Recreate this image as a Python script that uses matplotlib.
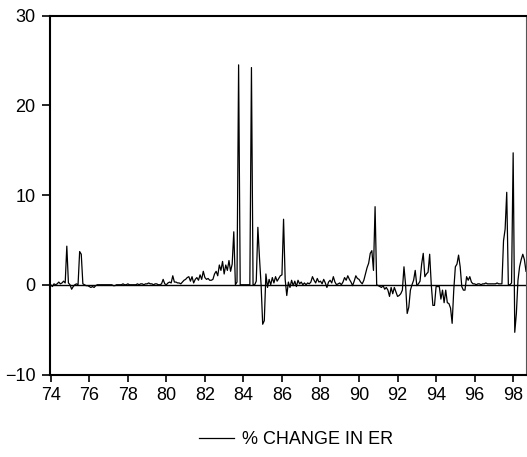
import numpy as np
import matplotlib
matplotlib.use("Agg")
import matplotlib.pyplot as plt

# Monthly % change in exchange rate, 1974:01 - 1998:09
y1974 = [0.0, -0.2, 0.1, 0.0, 0.1, 0.3, 0.1, 0.2, 0.4, 0.2, 4.3, 0.2]
y1975 = [0.0, -0.5, -0.2, 0.0, 0.1, 0.0, 3.7, 3.4, 0.1, 0.0, -0.1, -0.1]
y1976 = [-0.2, -0.3, -0.2, -0.3, -0.1, 0.0, 0.0, 0.0, 0.0, 0.0, 0.0, 0.0]
y1977 = [0.0, 0.0, 0.0, -0.1, -0.1, 0.0, 0.0, 0.0, 0.0, 0.1, 0.0, 0.0]
y1978 = [0.1, 0.0, 0.0, 0.0, 0.0, 0.0, 0.1, 0.0, 0.1, 0.1, 0.0, 0.1]
y1979 = [0.1, 0.2, 0.1, 0.1, 0.0, 0.1, 0.1, 0.0, 0.0, 0.1, 0.6, 0.1]
y1980 = [0.0, 0.2, 0.3, 0.2, 1.0, 0.3, 0.3, 0.2, 0.2, 0.1, 0.3, 0.5]
y1981 = [0.6, 0.8, 0.9, 0.4, 0.9, 0.2, 0.6, 0.8, 0.5, 1.1, 0.6, 1.5]
y1982 = [0.8, 0.6, 0.7, 0.5, 0.5, 0.6, 1.2, 1.5, 1.0, 2.2, 1.6, 2.6]
y1983 = [1.2, 2.2, 1.6, 2.7, 1.5, 2.3, 5.9, 0.0, 0.3, 24.5, 0.0, 0.0]
y1984 = [0.0, 0.0, 0.0, 0.0, 0.0, 24.2, 0.0, 0.0, 0.4, 6.4, 3.0, 0.0]
y1985 = [-4.4, -4.0, 1.2, -0.3, 0.6, 0.0, 0.8, 0.2, 0.9, 0.4, 0.7, 1.0]
y1986 = [1.1, 7.3, 0.6, -1.2, 0.3, -0.3, 0.5, -0.1, 0.4, -0.2, 0.5, 0.1]
y1987 = [0.3, 0.0, 0.2, 0.0, 0.2, 0.1, 0.3, 0.9, 0.5, 0.2, 0.7, 0.3]
y1988 = [0.4, 0.1, 0.6, 0.2, -0.3, 0.3, 0.5, 0.2, 0.9, 0.3, 0.0, 0.1]
y1989 = [0.2, 0.0, 0.3, 0.8, 0.5, 1.0, 0.6, 0.3, -0.1, 0.4, 1.0, 0.7]
y1990 = [0.6, 0.3, 0.1, 0.5, 1.2, 1.9, 2.4, 3.5, 3.8, 1.6, 8.7, 0.0]
y1991 = [-0.1, -0.2, -0.3, -0.1, -0.5, -0.3, -0.6, -1.3, -0.3, -1.0, -0.3, -0.8]
y1992 = [-1.3, -1.2, -1.0, -0.6, 2.0, 0.0, -3.2, -2.5, -0.6, 0.0, 0.5, 1.6]
y1993 = [-0.1, 0.1, 0.4, 2.3, 3.5, 0.9, 1.2, 1.4, 3.4, 0.0, -2.3, -2.3]
y1994 = [-0.2, -0.2, -0.2, -1.6, -0.6, -2.0, -0.6, -2.0, -2.1, -2.6, -4.3, -0.6]
y1995 = [2.0, 2.3, 3.3, 2.0, -0.2, -0.6, -0.6, 0.9, 0.5, 0.9, 0.3, 0.1]
y1996 = [0.1, 0.0, 0.1, 0.1, 0.0, 0.1, 0.1, 0.2, 0.1, 0.1, 0.1, 0.1]
y1997 = [0.1, 0.1, 0.2, 0.1, 0.1, 0.1, 4.9, 6.2, 10.3, 0.0, 0.0, 0.2]
y1998 = [14.7, -5.3, -3.2, 0.5, 2.0, 2.8, 3.4, 2.8, 1.5]

series_label = "% CHANGE IN ER"
x_ticks = list(range(1974, 1999, 2))
x_tick_labels = [str(y)[2:] for y in x_ticks]
y_ticks = [-10, 0, 10, 20, 30]

values = np.array(y1974 + y1975 + y1976 + y1977 + y1978 + y1979 + y1980 + y1981
                  + y1982 + y1983 + y1984 + y1985 + y1986 + y1987 + y1988 + y1989
                  + y1990 + y1991 + y1992 + y1993 + y1994 + y1995 + y1996 + y1997
                  + y1998)
t = 1974 + np.arange(len(values)) / 12.0

plt.rcParams['font.family'] = ['Liberation Sans', 'DejaVu Sans']

W, H = 527, 457
fig = plt.figure(figsize=(W / 100, H / 100), dpi=100)
ax = fig.add_axes([49.5 / W, 1 - 374.5 / H, (526 - 49.5) / W, (374.5 - 15.5) / H])

ax.axhline(0, color='black', lw=1.0, zorder=1)
line, = ax.plot(t, values, color='black', lw=0.9, zorder=2)

ax.set_xlim(1974 - 0.065, t[-1])
ax.set_ylim(-10, 30)
ax.set_xticks(x_ticks)
ax.set_xticklabels(x_tick_labels)
ax.set_yticks(y_ticks)

ax.tick_params(axis='both', direction='out', labelsize=13, color='black', width=1.2)
ax.tick_params(axis='y', length=6, pad=4)
ax.tick_params(axis='x', length=5, pad=4)

for side in ['left', 'bottom', 'top']:
    ax.spines[side].set_linewidth(1.5)
    ax.spines[side].set_color('black')
ax.spines['right'].set_linewidth(0.8)
ax.spines['right'].set_color('#555555')

fig.legend([line], [series_label], loc='center', bbox_to_anchor=(296 / W, 1 - 440 / H),
           frameon=False, fontsize=13, handlelength=1.9, handletextpad=0.45)

fig.savefig('out.png', dpi=100)
